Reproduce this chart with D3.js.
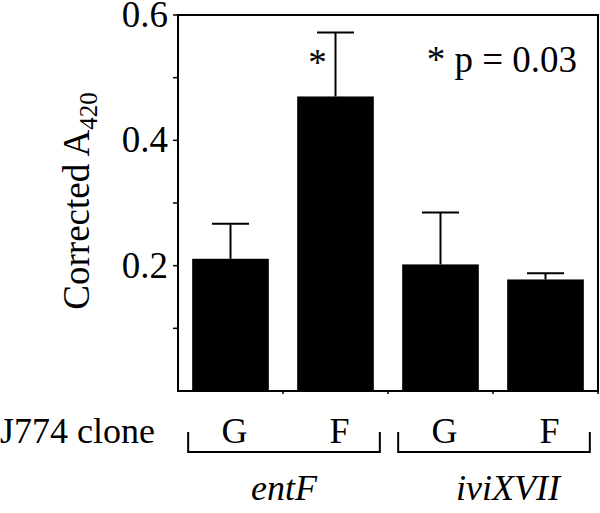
<!DOCTYPE html>
<html><head><meta charset="utf-8"><script src="https://cdn.jsdelivr.net/npm/d3@7"></script></head>
<body style="margin:0">
<svg id="s" width="600" height="513"></svg>
<script>
// data
const groups = ["entF", "iviXVII"];
const clones = ["G", "F", "G", "F"];
const groupOf = [0, 0, 1, 1];
const means = [0.211, 0.470, 0.202, 0.178];
const errors = [0.056, 0.102, 0.083, 0.010];
const significant = [false, true, false, false];
const majorTicks = [0.2, 0.4, 0.6];
const minorTicks = [0.1, 0.3, 0.5];

const plotLeft = 178, plotRight = 598, plotTop = 15, plotBottom = 391;
const fam = "\"Liberation Serif\"";

const svg = d3.select("#s");

const x = d3.scaleBand()
  .domain(d3.range(clones.length))
  .range([plotLeft, plotRight])
  .paddingInner(0.27)
  .paddingOuter(0.135);

const y = d3.scaleLinear().domain([0, 0.6]).range([plotBottom, plotTop]);

// frame
svg.append("rect")
  .attr("x", plotLeft).attr("y", plotTop)
  .attr("width", plotRight - plotLeft).attr("height", plotBottom - plotTop)
  .attr("fill", "none").attr("stroke", "#000").attr("stroke-width", 2);

// left ticks, drawn from the scale
svg.append("g")
  .selectAll("line")
  .data(majorTicks.concat(minorTicks))
  .join("line")
  .attr("x1", plotLeft - 5).attr("x2", plotLeft)
  .attr("y1", d => y(d)).attr("y2", d => y(d))
  .attr("stroke", "#000").attr("stroke-width", 1.5);

svg.append("g")
  .selectAll("text")
  .data(majorTicks)
  .join("text")
  .attr("x", plotLeft - 10)
  .attr("y", d => y(d) + 12)
  .attr("text-anchor", "end")
  .attr("font-size", 37)
  .style("font-family", fam)
  .text(d => d3.format(".1f")(d));

// small ticks between bars on the bottom
svg.append("g")
  .selectAll("line")
  .data(d3.range(1, clones.length + 1))
  .join("line")
  .attr("x1", i => plotLeft + x.step() * i).attr("x2", i => plotLeft + x.step() * i)
  .attr("y1", plotBottom).attr("y2", plotBottom + 3)
  .attr("stroke", "#000").attr("stroke-width", 1.5);

// bars
svg.append("g")
  .selectAll("rect")
  .data(means)
  .join("rect")
  .attr("x", (d, i) => x(i))
  .attr("y", d => y(d))
  .attr("width", x.bandwidth())
  .attr("height", d => y(0) - y(d))
  .attr("fill", "#000");

// error bars (upper only)
const err = svg.append("g").attr("stroke", "#000").attr("stroke-width", 2);
means.forEach((m, i) => {
  const cx = x(i) + x.bandwidth() / 2;
  err.append("line")
    .attr("x1", cx).attr("x2", cx)
    .attr("y1", y(m)).attr("y2", y(m + errors[i]));
  err.append("line")
    .attr("x1", cx - 18.5).attr("x2", cx + 18.5)
    .attr("y1", y(m + errors[i])).attr("y2", y(m + errors[i]));
});

// significance star
svg.append("g")
  .selectAll("text")
  .data(means.map((m, i) => ({ m, i })).filter(d => significant[d.i]))
  .join("text")
  .attr("x", d => x(d.i) + x.bandwidth() / 2 - 18)
  .attr("y", d => y(d.m + errors[d.i]) + 42)
  .attr("text-anchor", "middle")
  .attr("font-size", 37)
  .style("font-family", fam)
  .text("*");

svg.append("text")
  .attr("x", 577).attr("y", 72)
  .attr("text-anchor", "end")
  .attr("font-size", 37)
  .style("font-family", fam)
  .text("* p = 0.03");

// y label
const yl = svg.append("text")
  .attr("transform", "translate(89,201) rotate(-90)")
  .attr("text-anchor", "middle")
  .attr("font-size", 37)
  .style("font-family", fam);
yl.append("tspan").text("Corrected A");
yl.append("tspan").attr("font-size", 25).attr("dy", 8).text("420");

// bottom labels
svg.append("text")
  .attr("x", 0).attr("y", 443)
  .attr("font-size", 36)
  .style("font-family", fam)
  .text("J774 clone");

svg.append("g")
  .selectAll("text")
  .data(clones)
  .join("text")
  .attr("x", (d, i) => x(i) + x.bandwidth() / 2 + 4)
  .attr("y", 443)
  .attr("text-anchor", "middle")
  .attr("font-size", 36)
  .style("font-family", fam)
  .text(d => d);

// group brackets
groups.forEach((g, gi) => {
  const idx = d3.range(clones.length).filter(i => groupOf[i] === gi);
  const x0 = x(idx[0]) - 4;
  const x1 = x(idx[idx.length - 1]) + x.bandwidth() + 6;
  svg.append("path")
    .attr("d", `M${x0},432V452H${x1}V432`)
    .attr("fill", "none").attr("stroke", "#000").attr("stroke-width", 2);
  svg.append("text")
    .attr("x", (x0 + x1) / 2 + (gi === 1 ? 14 : 0))
    .attr("y", 500)
    .attr("text-anchor", "middle")
    .attr("font-size", 36)
    .attr("font-style", "italic")
    .style("font-family", fam)
    .text(g);
});
</script></body></html>
